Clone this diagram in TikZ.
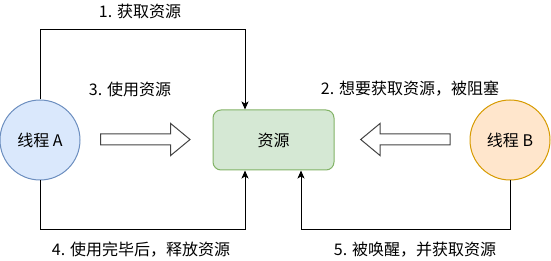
\documentclass[tikz,border=0pt]{standalone}
\usepackage{fontspec}
\setmainfont{Noto Sans CJK SC}
\usetikzlibrary{arrows.meta,calc}
\definecolor{aFill}{HTML}{DAE8FC}
\definecolor{aLine}{HTML}{6C8EBF}
\definecolor{bFill}{HTML}{FFE6CC}
\definecolor{bLine}{HTML}{D79B00}
\definecolor{rFill}{HTML}{D5E8D4}
\definecolor{rLine}{HTML}{82B366}
\definecolor{arrLine}{HTML}{444444}
\tikzset{
  thread/.style={circle, minimum size=80pt, inner sep=0pt, line width=1pt, font=\fontsize{16}{19}\selectfont},
  res/.style={rectangle, rounded corners=8pt, minimum width=121pt, minimum height=60pt, inner sep=0pt, line width=1pt, draw=rLine, fill=rFill, font=\fontsize{16}{19}\selectfont},
  conn/.style={draw=black, line width=1pt, -{Stealth[length=8pt,width=7pt,inset=2pt]}},
  blockarrow/.style={draw=arrLine, fill=white, line width=1pt, line join=miter},
  lbl/.style={inner sep=0pt, font=\fontsize{16}{19}\selectfont},
}
\begin{document}
\begin{tikzpicture}[x=1pt,y=-1pt]
\useasboundingbox (0,0) rectangle (551,261);
\node[thread, draw=aLine, fill=aFill] (A) at (40,140) {线程 A};
\node[thread, draw=bLine, fill=bFill] (B) at (510,140) {线程 B};
\node[res] (R) at (273.5,140) {资源};
\coordinate (t1) at (245,30);
\coordinate (b1) at (245,230);
\coordinate (b2) at (301,230);
\draw[conn] (A.north) |- (t1) -- (t1 |- R.north);
\draw[conn] (A.south) |- (b1) -- (b1 |- R.south);
\draw[conn] (B.south) |- (b2) -- (b2 |- R.south);
\draw[blockarrow] (100.7,134) -- (170.7,134) -- (170.7,123.5) -- (190,139.5) -- (170.7,155.5) -- (170.7,145) -- (100.7,145) -- cycle;
\draw[blockarrow] (450,134) -- (380,134) -- (380,123.5) -- (360.7,139.5) -- (380,155.5) -- (380,145) -- (450,145) -- cycle;
\node[lbl] (l1) at (140,11) {1. 获取资源};
\node[lbl] (l3) at (130,89) {3. 使用资源};
\node[lbl] (l2) at (410,89) {2. 想要获取资源，被阻塞};
\node[lbl] (l4) at (141,250) {4. 使用完毕后，释放资源};
\node[lbl] (l5) at (415,250) {5. 被唤醒，并获取资源};
\end{tikzpicture}
\end{document}
